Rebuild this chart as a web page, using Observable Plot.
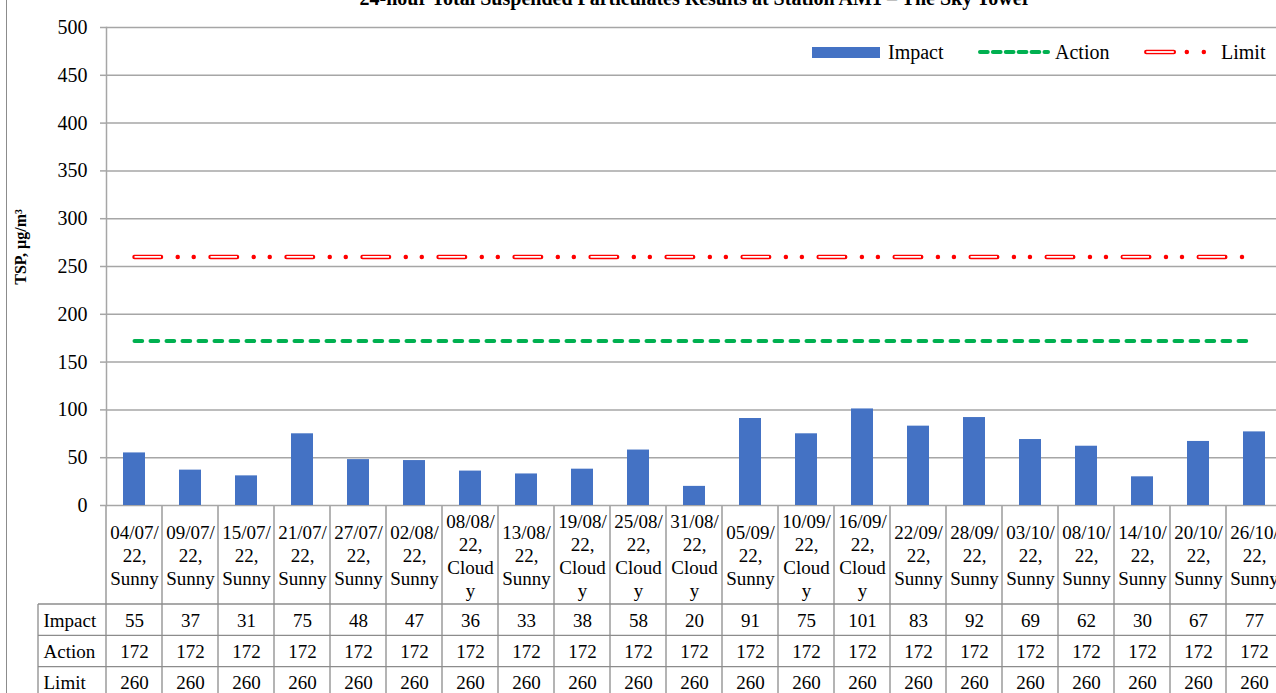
<!DOCTYPE html>
<html>
<head>
<meta charset="utf-8">
<script src="https://cdn.jsdelivr.net/npm/d3@7"></script>
<script src="https://cdn.jsdelivr.net/npm/@observablehq/plot@0.6"></script>
<style>
  html, body { margin: 0; padding: 0; background: #fff; overflow: hidden; }
  #wrap { position: relative; width: 1276px; height: 693px; overflow: hidden; font-family: "Liberation Serif", "DejaVu Serif", serif; color: #000; }
  #wrap svg { position: absolute; left: 0; top: 0; max-width: none; }
  .abs { position: absolute; white-space: nowrap; }
</style>
</head>
<body>
<div id="wrap">
  <div id="chart"></div>
  <div class="abs" style="left:0;top:-12px;width:1390px;text-align:center;font-weight:bold;font-size:20px;line-height:20px;">24-hour Total Suspended Particulates Results at Station AM1 – The Sky Tower</div>
  <div class="abs" style="left:6px;top:0;width:1px;height:693px;background:#8c8c8c;"></div>
  <div class="abs" style="left:21px;top:247px;transform:translate(-50%,-50%) rotate(-90deg);font-weight:bold;font-size:16px;">TSP, μg/m³</div>
  <div id="legend"></div>
</div>
<script>
const dates = ["04/07/22","09/07/22","15/07/22","21/07/22","27/07/22","02/08/22","08/08/22","13/08/22","19/08/22","25/08/22","31/08/22","05/09/22","10/09/22","16/09/22","22/09/22","28/09/22","03/10/22","08/10/22","14/10/22","20/10/22","26/10/22"];
const weather = ["Sunny","Sunny","Sunny","Sunny","Sunny","Sunny","Cloudy","Sunny","Cloudy","Cloudy","Cloudy","Sunny","Cloudy","Cloudy","Sunny","Sunny","Sunny","Sunny","Sunny","Sunny","Sunny"];
const impact = [55,37,31,75,48,47,36,33,38,58,20,91,75,101,83,92,69,62,30,67,77];
const action = [172,172,172,172,172,172,172,172,172,172,172,172,172,172,172,172,172,172,172,172,172];
const limit  = [260,260,260,260,260,260,260,260,260,260,260,260,260,260,260,260,260,260,260,260,260];
const yTicks = [0,50,100,150,200,250,300,350,400,450,500];
const rowNames = ["Impact","Action","Limit"];

const cats = dates.map((d, i) => d + ", " + weather[i]);
const labels = dates.map((d, i) => d.slice(0, 6) + "\n" + d.slice(6) + ",\n" + (weather[i] === "Cloudy" ? "Cloud\ny" : weather[i]));

const W = 1290, H = 693;
const font = '"Liberation Serif", "DejaVu Serif", serif';
const grid = "#a6a6a6";

const plot = Plot.plot({
  width: W, height: H,
  marginLeft: 106, marginRight: 8, marginTop: 27, marginBottom: 188,
  style: { fontFamily: font, fontSize: "20px", color: "#000", background: "transparent", maxWidth: "none", overflow: "visible" },
  x: { domain: cats, padding: 0, axis: null },
  y: { domain: [0, 500], axis: null },
  marks: [
    Plot.gridY(yTicks, { stroke: grid, strokeOpacity: 1, strokeWidth: 1.5 }),
    Plot.axisY(yTicks, { tickSize: 6, tickPadding: 13, stroke: grid, strokeWidth: 1.5, fill: "#000", fontSize: 20, label: null, tickFormat: d => String(d) }),
    Plot.frame({ anchor: "left", stroke: grid, strokeWidth: 1.5 }),
    Plot.barY(impact, { x: cats, y: impact, fill: "#4472c4", insetLeft: 17, insetRight: 17 }),
    Plot.lineY(action, { x: cats, y: action, stroke: "#00b050", strokeWidth: 4, strokeDasharray: "7.7 8.3", strokeLinecap: "round" }),
    Plot.lineY(limit, { x: cats, y: limit, stroke: "#ff0000", strokeWidth: 4.5, strokeDasharray: "26.5 16.7 0.01 16 0.01 16.8", strokeLinecap: "round" }),
    Plot.lineY(limit, { x: cats, y: limit, stroke: "#ffffff", strokeWidth: 1.8, strokeDasharray: "26.5 49.5", strokeLinecap: "butt" }),
    Plot.text(labels, { x: cats, text: labels, frameAnchor: "bottom", dy: 49.5, lineHeight: 1.21, fontSize: 19, lineAnchor: "middle", fill: "#000" }),
    Plot.text(impact, { x: cats, text: impact.map(String), frameAnchor: "bottom", dy: 115.5, fontSize: 19, lineAnchor: "middle", fill: "#000" }),
    Plot.text(action, { x: cats, text: action.map(String), frameAnchor: "bottom", dy: 146.5, fontSize: 19, lineAnchor: "middle", fill: "#000" }),
    Plot.text(limit, { x: cats, text: limit.map(String), frameAnchor: "bottom", dy: 177.5, fontSize: 19, lineAnchor: "middle", fill: "#000" }),
    Plot.text([rowNames[0]], { text: d => d, frameAnchor: "bottom-left", dx: -63, dy: 115.5, textAnchor: "start", fontSize: 19, lineAnchor: "middle", fill: "#000" }),
    Plot.text([rowNames[1]], { text: d => d, frameAnchor: "bottom-left", dx: -63, dy: 146.5, textAnchor: "start", fontSize: 19, lineAnchor: "middle", fill: "#000" }),
    Plot.text([rowNames[2]], { text: d => d, frameAnchor: "bottom-left", dx: -63, dy: 177.5, textAnchor: "start", fontSize: 19, lineAnchor: "middle", fill: "#000" })
  ]
});

// table grid lines derived from the x scale
const xs = plot.scale("x");
const y0 = plot.scale("y").apply(0);
const step = xs.bandwidth;
const g = d3.select(plot).insert("g", ":first-child").attr("stroke", "#8c8c8c").attr("stroke-width", 1.3).attr("fill", "none");
const edges = cats.map(c => xs.apply(c)).concat([xs.apply(cats[cats.length - 1]) + step]);
edges.forEach(x => g.append("line").attr("x1", x).attr("x2", x).attr("y1", y0).attr("y2", H));
const rowTop = y0 + 99, rowH = 31.3;
[0, 1, 2].forEach(i => g.append("line").attr("x1", 38).attr("x2", W).attr("y1", rowTop + i * rowH).attr("y2", rowTop + i * rowH));
g.append("line").attr("x1", 38).attr("x2", 38).attr("y1", rowTop).attr("y2", H);

document.getElementById("chart").appendChild(plot);

// legend
const lg = document.getElementById("legend");
lg.innerHTML = `
  <div class="abs" style="left:812px;top:47px;width:68px;height:11px;background:#4472c4;"></div>
  <div class="abs" style="left:888px;top:41px;font-size:20px;line-height:22px;">${rowNames[0]}</div>
  <svg class="abs" style="left:970px;top:44px;" width="84" height="16"><line x1="10" x2="78" y1="8" y2="8" stroke="#00b050" stroke-width="4" stroke-linecap="round" stroke-dasharray="7.7 5.2"/></svg>
  <div class="abs" style="left:1055px;top:41px;font-size:20px;line-height:22px;">${rowNames[1]}</div>
  <svg class="abs" style="left:1140px;top:44px;" width="80" height="16"><line x1="6.3" x2="70" y1="8" y2="8" stroke="#ff0000" stroke-width="4.5" stroke-linecap="round" stroke-dasharray="27.5 13 0.01 17 0.01 40"/><line x1="6.3" x2="70" y1="8" y2="8" stroke="#fff" stroke-width="1.8" stroke-dasharray="27.5 60"/></svg>
  <div class="abs" style="left:1221px;top:41px;font-size:20px;line-height:22px;">${rowNames[2]}</div>
`;
</script>
</body>
</html>
